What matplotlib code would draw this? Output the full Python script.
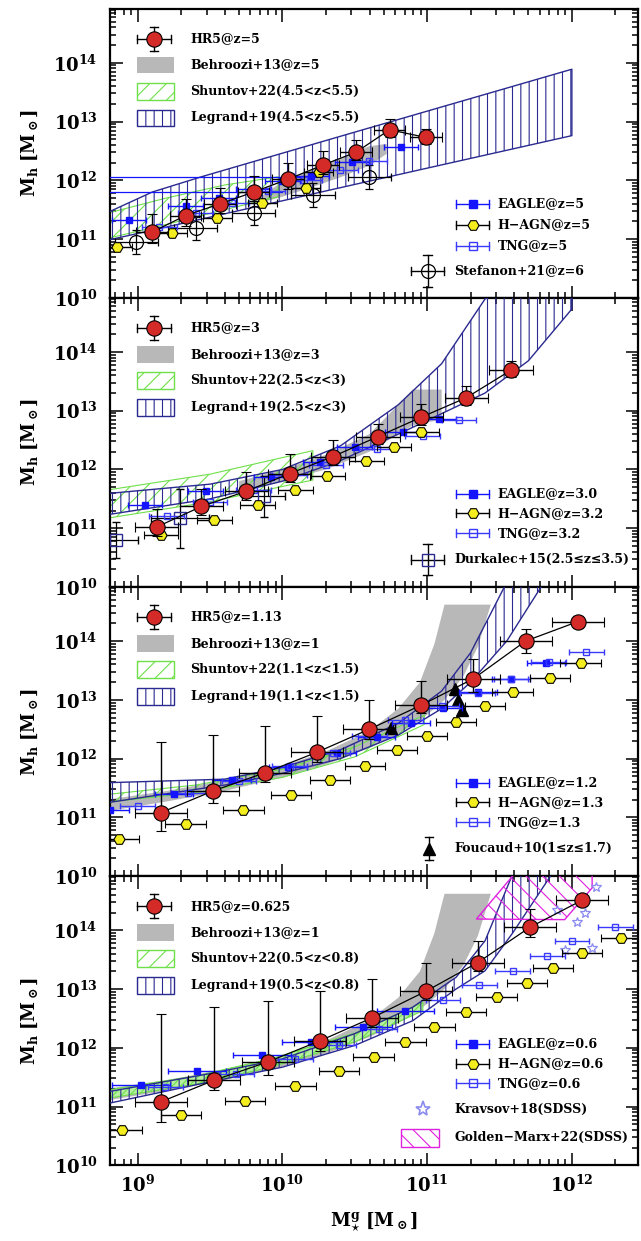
import numpy as np
import matplotlib
matplotlib.use("Agg")
import matplotlib.pyplot as plt
from matplotlib.patches import Rectangle, Polygon
from matplotlib.ticker import FuncFormatter, LogLocator, NullFormatter

plt.rcParams['font.family'] = ['DejaVu Serif']
plt.rcParams['mathtext.fontset'] = 'dejavuserif'
plt.rcParams['hatch.linewidth'] = 0.8

# ---------------- data (log10 of masses) ----------------
# z = 5 panel
hr5_z5_x = [9.10, 9.33, 9.57, 9.80, 10.04, 10.28, 10.51, 10.74, 10.99]
hr5_z5_y = [11.12, 11.40, 11.60, 11.80, 12.02, 12.26, 12.48, 12.86, 12.73]
hr5_z5_up = [0.30, 0.28, 0.27, 0.27, 0.28, 0.24, 0.20, 0.18, 0.15]
hr5_z5_lo = [0.18, 0.17, 0.16, 0.16, 0.16, 0.15, 0.14, 0.13, 0.12]
eagle_z5_x = [8.94, 9.33, 9.56, 9.80, 10.00, 10.20, 10.48, 10.82]
eagle_z5_y = [11.32, 11.56, 11.70, 11.85, 11.98, 12.07, 12.31, 12.56]
hagn_z5_x = [8.86, 9.24, 9.55, 9.86, 10.16, 10.25]
hagn_z5_y = [10.86, 11.11, 11.36, 11.62, 11.87, 12.14]
tng_z5_x = [9.15, 9.40, 9.65, 9.90, 10.15, 10.40, 10.60]
tng_z5_y = [11.20, 11.45, 11.62, 11.82, 12.00, 12.18, 12.32]
stef_x = [8.99, 9.40, 9.80, 10.21, 10.60]
stef_y = [10.95, 11.18, 11.44, 11.75, 12.06]
beh_z5_x = [9.85, 10.00, 10.20, 10.40, 10.60, 10.72]
beh_z5_lo = [11.62, 11.72, 11.88, 12.05, 12.25, 12.45]
beh_z5_hi = [11.72, 11.98, 12.18, 12.38, 12.58, 12.62]
shu_z5_x = [8.79, 9.20, 9.60, 9.97]
shu_z5_lo = [11.01, 11.25, 11.50, 11.72]
shu_z5_hi = [11.44, 11.70, 11.92, 12.06]
leg_z5_x = [8.79, 9.10, 9.44, 10.50, 12.00]
leg_z5_lo = [10.98, 11.15, 11.34, 11.93, 12.76]
leg_z5_hi = [11.45, 11.80, 12.06, 12.82, 13.89]
leg_z5_flat_y = [12.06, 11.80]
leg_z5_flat_xend = [10.26, 10.00]

# z = 3 panel
hr5_z3_x = [9.13, 9.44, 9.75, 10.05, 10.35, 10.66, 10.96, 11.27, 11.58]
hr5_z3_y = [11.02, 11.37, 11.63, 11.93, 12.22, 12.56, 12.89, 13.22, 13.69]
hr5_z3_up = [0.30, 0.30, 0.32, 0.33, 0.28, 0.22, 0.22, 0.20, 0.15]
hr5_z3_lo = [0.15, 0.15, 0.15, 0.15, 0.14, 0.13, 0.13, 0.13, 0.12]
eagle_z3_x = [9.05, 9.47, 9.92, 10.26, 10.50, 10.83, 11.08]
eagle_z3_y = [11.40, 11.64, 11.87, 12.12, 12.38, 12.63, 12.86]
hagn_z3_x = [9.16, 9.53, 9.83, 10.09, 10.31, 10.58, 10.77, 10.96]
hagn_z3_y = [10.89, 11.14, 11.40, 11.65, 11.89, 12.14, 12.39, 12.64]
tng_z3_x = [9.20, 9.50, 9.80, 10.05, 10.30, 10.65, 10.97, 11.22]
tng_z3_y = [11.20, 11.45, 11.65, 11.90, 12.07, 12.35, 12.57, 12.84]
durk_x = [8.85, 9.29, 9.87]
durk_y = [10.80, 11.17, 11.54]
durk_dx = [0.15, 0.20, 0.15]
durk_dy = [0.30, 0.50, 0.35]
beh_z3_x = [9.70, 10.00, 10.30, 10.60, 10.80, 10.90, 11.10]
beh_z3_lo = [11.60, 11.80, 12.00, 12.30, 12.60, 12.75, 12.85]
beh_z3_hi = [11.80, 12.00, 12.25, 12.60, 13.10, 13.36, 13.36]
shu_z3_x = [8.79, 9.50, 10.21]
shu_z3_lo = [11.17, 11.45, 11.82]
shu_z3_hi = [11.65, 11.92, 12.32]
leg_z3_x = [8.79, 9.50, 10.00, 10.40, 10.80, 11.10, 11.40, 11.70, 12.00]
leg_z3_lo = [11.23, 11.50, 11.80, 12.15, 12.60, 12.95, 13.30, 13.85, 14.73]
leg_z3_hi = [11.59, 11.75, 12.00, 12.40, 13.10, 13.80, 14.90, 15.50, 16.00]

# z = 1.13 panel
hr5_z1_x = [9.16, 9.52, 9.88, 10.24, 10.60, 10.96, 11.32, 11.68, 12.04]
hr5_z1_y = [11.08, 11.45, 11.76, 12.11, 12.50, 12.91, 13.36, 14.00, 14.33]
hr5_z1_up = [1.20, 0.96, 0.79, 0.62, 0.49, 0.41, 0.34, 0.21, 0.10]
hr5_z1_lo = [0.32, 0.20, 0.16, 0.16, 0.17, 0.13, 0.22, 0.21, 0.10]
eagle_z1_x = [8.81, 9.25, 9.65, 10.04, 10.38, 10.65, 10.89, 11.11, 11.35, 11.58, 11.82]
eagle_z1_y = [11.12, 11.39, 11.63, 11.85, 12.10, 12.37, 12.61, 12.86, 13.13, 13.36, 13.63]
hagn_z1_x = [8.87, 9.33, 9.73, 10.06, 10.33, 10.57, 10.79, 11.00, 11.20, 11.40, 11.59, 11.85, 12.06]
hagn_z1_y = [10.63, 10.88, 11.13, 11.38, 11.63, 11.88, 12.14, 12.39, 12.63, 12.89, 13.13, 13.38, 13.63]
tng_z1_x = [9.00, 9.35, 9.70, 10.05, 10.35, 10.60, 10.85, 11.10, 11.35, 11.58, 11.84, 12.10]
tng_z1_y = [11.20, 11.42, 11.62, 11.87, 12.10, 12.38, 12.65, 12.90, 13.12, 13.35, 13.64, 13.82]
fouc_x = [10.75, 11.19, 11.21, 11.24]
fouc_y = [12.52, 13.18, 13.00, 12.83]
beh_z1_x = [8.78, 9.20, 9.60, 10.00, 10.30, 10.60, 10.80, 10.95, 11.05, 11.12, 11.25, 11.35, 11.44]
beh_z1_lo = [11.10, 11.27, 11.45, 11.68, 11.90, 12.18, 12.42, 12.65, 12.85, 13.00, 13.40, 13.90, 14.62]
beh_z1_hi = [11.30, 11.45, 11.63, 11.87, 12.12, 12.47, 12.85, 13.30, 13.95, 14.62, 14.62, 14.62, 14.62]
shu_z1_x = [8.79, 9.40, 10.00, 10.50, 10.98]
shu_z1_lo = [11.26, 11.42, 11.68, 12.03, 12.58]
shu_z1_hi = [11.39, 11.55, 11.82, 12.20, 12.74]
leg_z1_x = [8.79, 9.60, 10.00, 10.40, 10.80, 11.10, 11.30, 11.55, 11.80]
leg_z1_lo = [11.25, 11.55, 11.75, 12.00, 12.40, 12.85, 13.30, 14.00, 14.97]
leg_z1_hi = [11.59, 11.65, 11.85, 12.15, 12.60, 13.15, 13.80, 15.00, 16.00]

# z = 0.625 panel
hr5_z06_x = [9.16, 9.53, 9.90, 10.26, 10.62, 10.99, 11.35, 11.71, 12.07]
hr5_z06_y = [11.08, 11.45, 11.76, 12.12, 12.51, 12.96, 13.45, 14.05, 14.51]
hr5_z06_up = [1.50, 1.24, 1.03, 0.85, 0.66, 0.48, 0.37, 0.31, 0.10]
hr5_z06_lo = [0.34, 0.17, 0.23, 0.17, 0.15, 0.15, 0.15, 0.17, 0.10]
eagle_z06_x = [9.02, 9.41, 9.86, 10.20, 10.56, 10.85]
eagle_z06_y = [11.36, 11.60, 11.87, 12.10, 12.35, 12.63]
hagn_z06_x = [8.89, 9.30, 9.74, 10.09, 10.39, 10.63, 10.85, 11.05, 11.27, 11.48, 11.69, 11.87, 12.07, 12.34]
hagn_z06_y = [10.60, 10.85, 11.10, 11.35, 11.60, 11.85, 12.10, 12.35, 12.60, 12.86, 13.11, 13.36, 13.61, 13.86]
tng_z06_x = [9.19, 9.68, 10.09, 10.39, 10.67, 11.11, 11.36, 11.59, 11.83, 12.00, 12.30]
tng_z06_y = [11.33, 11.56, 11.81, 12.05, 12.32, 12.81, 13.07, 13.31, 13.56, 13.82, 14.05]
krav_x = [11.90, 11.95, 12.035, 12.09, 12.14, 12.17]
krav_y = [14.35, 13.67, 14.14, 14.29, 13.69, 14.73]
gm_x = [11.34, 11.60, 12.14, 12.14, 11.95]
gm_y = [14.19, 14.95, 14.95, 14.72, 14.18]
shu_z06_x = [8.79, 9.40, 9.92, 10.50, 10.97]
shu_z06_lo = [11.14, 11.38, 11.67, 12.10, 12.63]
shu_z06_hi = [11.28, 11.52, 11.81, 12.25, 12.77]
leg_z06_x = [8.79, 9.50, 10.00, 10.50, 10.90, 11.20, 11.40, 11.59, 11.86]
leg_z06_lo = [11.05, 11.42, 11.67, 12.04, 12.46, 13.00, 13.31, 13.95, 14.95]
leg_z06_hi = [11.25, 11.56, 11.81, 12.24, 12.69, 13.20, 13.82, 14.95, 15.50]

labels_z5 = ["HR5@z=5", "Behroozi+13@z=5", "Shuntov+22(4.5<z<5.5)", "Legrand+19(4.5<z<5.5)",
             "EAGLE@z=5", "H\u2212AGN@z=5", "TNG@z=5", "Stefanon+21@z=6"]
labels_z3 = ["HR5@z=3", "Behroozi+13@z=3", "Shuntov+22(2.5<z<3)", "Legrand+19(2.5<z<3)",
             "EAGLE@z=3.0", "H\u2212AGN@z=3.2", "TNG@z=3.2", "Durkalec+15(2.5\u2264z\u22643.5)"]
labels_z1 = ["HR5@z=1.13", "Behroozi+13@z=1", "Shuntov+22(1.1<z<1.5)", "Legrand+19(1.1<z<1.5)",
             "EAGLE@z=1.2", "H\u2212AGN@z=1.3", "TNG@z=1.3", "Foucaud+10(1\u2264z\u22641.7)"]
labels_z06 = ["HR5@z=0.625", "Behroozi+13@z=1", "Shuntov+22(0.5<z<0.8)", "Legrand+19(0.5<z<0.8)",
              "EAGLE@z=0.6", "H\u2212AGN@z=0.6", "TNG@z=0.6", "Kravsov+18(SDSS)", "Golden\u2212Marx+22(SDSS)"]

# ---------------- styles ----------------
RED = '#d42a28'
GRAY = '#b8b8b8'
GREEN = '#6fe04a'
NAVY = '#2a2a90'
BLUE = '#1414ff'
TNGB = '#3a3aff'
YEL = '#f4ee1e'
STAR = '#8a8af0'
MAG = '#e020e0'
FS = 9


def P(a):
    return 10 ** np.asarray(a, dtype=float)


def ebar(ax, x, y, dx, dlo, dhi, **kw):
    x = np.asarray(x, float)
    y = np.asarray(y, float)
    X, Y = P(x), P(y)
    xerr = [X - P(x - np.asarray(dx)), P(x + np.asarray(dx)) - X]
    yerr = None
    if dlo is not None:
        yerr = [Y - P(y - np.asarray(dlo)), P(y + np.asarray(dhi)) - Y]
    ax.errorbar(X, Y, xerr=xerr, yerr=yerr, **kw)


def band(ax, x, lo, hi, **kw):
    ax.fill_between(P(x), P(lo), P(hi), **kw)


def leg_mark(ax, xa, ya, half, vhalf, ecol, **mk):
    t = ax.transAxes
    kw = dict(transform=t, color=ecol, lw=1.0, clip_on=False, zorder=9)
    ax.plot([xa - half, xa + half], [ya, ya], **kw)
    ax.plot([xa - half] * 2, [ya - 0.014, ya + 0.014], **kw)
    ax.plot([xa + half] * 2, [ya - 0.014, ya + 0.014], **kw)
    if vhalf:
        ax.plot([xa, xa], [ya - vhalf, ya + vhalf], **kw)
        ax.plot([xa - 0.008, xa + 0.008], [ya - vhalf] * 2, **kw)
        ax.plot([xa - 0.008, xa + 0.008], [ya + vhalf] * 2, **kw)
    ax.plot([xa], [ya], transform=t, clip_on=False, zorder=10, ls='none', **mk)


def leg_rect(ax, x0, ya, w, h, **kw):
    ax.add_patch(Rectangle((x0, ya - h / 2), w, h, transform=ax.transAxes, zorder=9, **kw))


def upper_legend(ax, labels):
    rows = [0.896, 0.805, 0.714, 0.622]
    leg_mark(ax, 0.083, rows[0], 0.032, 0.042, 'k', marker='o', ms=11, mfc=RED, mec='k', mew=0.8)
    leg_rect(ax, 0.051, rows[1], 0.07, 0.058, facecolor=GRAY, edgecolor='none')
    leg_rect(ax, 0.051, rows[2], 0.07, 0.058, facecolor='none', edgecolor=GREEN, hatch='//', lw=1)
    leg_rect(ax, 0.051, rows[3], 0.07, 0.058, facecolor='none', edgecolor=NAVY, hatch='||', lw=1)
    for r, s in zip(rows, labels[:4]):
        ax.text(0.151, r, s, transform=ax.transAxes, fontsize=FS, fontweight='bold', va='center')


def lower_legend(ax, labels, rows):
    leg_mark(ax, 0.686, rows[0], 0.031, 0, BLUE, marker='s', ms=6, mfc=BLUE, mec=BLUE)
    leg_mark(ax, 0.686, rows[1], 0.031, 0, 'k', marker='H', ms=8, mfc=YEL, mec='k', mew=0.8)
    leg_mark(ax, 0.686, rows[2], 0.031, 0, TNGB, marker='s', ms=6, mfc='none', mec=TNGB, mew=1)
    for r, s in zip(rows[:3], labels[4:7]):
        ax.text(0.733, r, s, transform=ax.transAxes, fontsize=FS, fontweight='bold', va='center')


def draw_common(ax, hx, hy, hlo, hup, hdx, ex, ey, edx, gx, gy, gdx, tx, ty, tdx):
    ebar(ax, ex, ey, edx, None, None, fmt='s', ms=5, color=BLUE, mec=BLUE, elinewidth=1,
         capsize=2.5, zorder=6)
    ebar(ax, tx, ty, tdx, None, None, fmt='s', ms=5, mfc='none', color=TNGB, mec=TNGB,
         elinewidth=1, capsize=2.5, zorder=6)
    ebar(ax, gx, gy, gdx, None, None, fmt='H', ms=8, mfc=YEL, mec='k', mew=0.8, color='k',
         elinewidth=1, capsize=3, zorder=7)
    ax.plot(P(hx), P(hy), color='k', lw=0.9, zorder=7.5)
    ebar(ax, hx, hy, hdx, hlo, hup, fmt='o', ms=11, mfc=RED, mec='k', mew=0.8, color='k',
         elinewidth=1, capsize=3.5, zorder=8)


fig = plt.figure(figsize=(6.41, 12.41), dpi=100)
axs = fig.subplots(4, 1, sharex=True, gridspec_kw=dict(hspace=0))
fig.subplots_adjust(left=0.172, right=0.996, top=0.993, bottom=0.061)

# ---- panel 1: z=5
ax = axs[0]
band(ax, beh_z5_x, beh_z5_lo, beh_z5_hi, facecolor=GRAY, edgecolor='none', zorder=1)
band(ax, shu_z5_x, shu_z5_lo, shu_z5_hi, facecolor='none', edgecolor=GREEN, hatch='//', lw=0.8, zorder=2)
band(ax, leg_z5_x, leg_z5_lo, leg_z5_hi, facecolor='none', edgecolor=NAVY, hatch='||', lw=1, zorder=3)
for yv, xe in zip(leg_z5_flat_y, leg_z5_flat_xend):
    ax.plot(P([8.6, xe]), P([yv, yv]), color=BLUE, lw=0.9, zorder=3)
ebar(ax, stef_x, stef_y, 0.15, 0.2, 0.2, fmt='o', ms=10, mfc='none', mec='k', mew=0.9, color='k',
     elinewidth=0.9, capsize=3, zorder=5)
draw_common(ax, hr5_z5_x, hr5_z5_y, hr5_z5_lo, hr5_z5_up, 0.11,
            eagle_z5_x, eagle_z5_y, 0.12, hagn_z5_x, hagn_z5_y, 0.1, tng_z5_x, tng_z5_y, 0.12)
upper_legend(ax, labels_z5)
lower_legend(ax, labels_z5, [0.325, 0.252, 0.180])
leg_mark(ax, 0.601, 0.094, 0.031, 0.055, 'k', marker='o', ms=10, mfc='none', mec='k', mew=0.9)
ax.text(0.651, 0.094, labels_z5[7], transform=ax.transAxes, fontsize=FS, fontweight='bold', va='center')

# ---- panel 2: z=3
ax = axs[1]
band(ax, beh_z3_x, beh_z3_lo, beh_z3_hi, facecolor=GRAY, edgecolor='none', zorder=1)
band(ax, shu_z3_x, shu_z3_lo, shu_z3_hi, facecolor='none', edgecolor=GREEN, hatch='//', lw=0.8, zorder=2)
band(ax, leg_z3_x, leg_z3_lo, leg_z3_hi, facecolor='none', edgecolor=NAVY, hatch='||', lw=1, zorder=3)
ebar(ax, durk_x, durk_y, durk_dx, durk_dy, durk_dy, fmt='s', ms=8, mfc='none', mec=NAVY, mew=1,
     color='k', elinewidth=0.9, capsize=3, zorder=5)
draw_common(ax, hr5_z3_x, hr5_z3_y, hr5_z3_lo, hr5_z3_up, 0.15,
            eagle_z3_x, eagle_z3_y, 0.12, hagn_z3_x, hagn_z3_y, 0.12, tng_z3_x, tng_z3_y, 0.12)
upper_legend(ax, labels_z3)
lower_legend(ax, labels_z3, [0.322, 0.255, 0.186])
leg_mark(ax, 0.601, 0.095, 0.031, 0.055, 'k', marker='s', ms=8, mfc='none', mec=NAVY, mew=1)
ax.text(0.651, 0.095, labels_z3[7], transform=ax.transAxes, fontsize=FS, fontweight='bold', va='center')

# ---- panel 3: z=1.13
ax = axs[2]
band(ax, beh_z1_x, beh_z1_lo, beh_z1_hi, facecolor=GRAY, edgecolor='none', zorder=1)
band(ax, shu_z1_x, shu_z1_lo, shu_z1_hi, facecolor='none', edgecolor=GREEN, hatch='//', lw=0.8, zorder=2)
band(ax, leg_z1_x, leg_z1_lo, leg_z1_hi, facecolor='none', edgecolor=NAVY, hatch='||', lw=1, zorder=3)
ax.plot(P(fouc_x), P(fouc_y), ls='none', marker='^', ms=8, color='k', zorder=5)
draw_common(ax, hr5_z1_x, hr5_z1_y, hr5_z1_lo, hr5_z1_up, 0.18,
            eagle_z1_x, eagle_z1_y, 0.13, hagn_z1_x, hagn_z1_y, 0.14, tng_z1_x, tng_z1_y, 0.12)
upper_legend(ax, labels_z1)
lower_legend(ax, labels_z1, [0.322, 0.255, 0.186])
leg_mark(ax, 0.603, 0.095, 0.0, 0.04, 'k', marker='^', ms=9, mfc='k', mec='k')
ax.text(0.651, 0.095, labels_z1[7], transform=ax.transAxes, fontsize=FS, fontweight='bold', va='center')

# ---- panel 4: z=0.625
ax = axs[3]
band(ax, beh_z1_x, beh_z1_lo, beh_z1_hi, facecolor=GRAY, edgecolor='none', zorder=1)
band(ax, shu_z06_x, shu_z06_lo, shu_z06_hi, facecolor='#b6f0a0', edgecolor=GREEN, hatch='////', lw=0.8, zorder=2)
band(ax, leg_z06_x, leg_z06_lo, leg_z06_hi, facecolor='none', edgecolor=NAVY, hatch='||', lw=1, zorder=3)
ax.add_patch(Polygon(np.column_stack([P(gm_x), P(gm_y)]), closed=True, facecolor='none',
                     edgecolor=MAG, hatch='\\\\', lw=1, zorder=3.5))
ax.plot(P(krav_x), P(krav_y), ls='none', marker='*', ms=7, mfc='none', mec=STAR, mew=0.9, zorder=5)
draw_common(ax, hr5_z06_x, hr5_z06_y, hr5_z06_lo, hr5_z06_up, 0.18,
            eagle_z06_x, eagle_z06_y, 0.2, hagn_z06_x, hagn_z06_y, 0.14, tng_z06_x, tng_z06_y, 0.12)
upper_legend(ax, labels_z06)
lower_legend(ax, labels_z06, [0.420, 0.352, 0.283])
ax.plot([0.593], [0.194], transform=ax.transAxes, marker='*', ms=11, mfc='none', mec=STAR, mew=1.2,
        clip_on=False, zorder=10)
ax.text(0.651, 0.194, labels_z06[7], transform=ax.transAxes, fontsize=FS, fontweight='bold', va='center')
leg_rect(ax, 0.55, 0.095, 0.072, 0.063, facecolor='none', edgecolor=MAG, hatch='\\\\', lw=1)
ax.text(0.651, 0.095, labels_z06[8], transform=ax.transAxes, fontsize=FS, fontweight='bold', va='center')

# ---------------- axes cosmetics ----------------
yfmt = FuncFormatter(lambda v, p: r'$\mathbf{10^{%d}}$' % round(np.log10(v)))
for ax in axs:
    ax.set_xscale('log')
    ax.set_yscale('log')
    ax.set_xlim(P(8.81), P(12.46))
    ax.set_ylim(P(10.0), P(14.92))
    ax.yaxis.set_major_locator(LogLocator(base=10, numticks=10))
    ax.yaxis.set_minor_locator(LogLocator(base=10, subs=np.arange(2, 10), numticks=20))
    ax.yaxis.set_major_formatter(yfmt)
    ax.yaxis.set_minor_formatter(NullFormatter())
    ax.xaxis.set_minor_locator(LogLocator(base=10, subs=np.arange(2, 10), numticks=20))
    ax.xaxis.set_minor_formatter(NullFormatter())
    ax.tick_params(which='both', direction='in', top=True, right=True, width=1.1)
    ax.tick_params(which='major', length=9, labelsize=13, pad=9)
    ax.tick_params(which='minor', length=4.5)
    for sp in ax.spines.values():
        sp.set_linewidth(1.6)
    ax.set_ylabel(r'$\mathbf{M_h\ [M_\odot]}$', fontsize=13, labelpad=10)

axs[3].xaxis.set_major_formatter(yfmt)
axs[3].tick_params(axis='x', which='major', pad=7)
axs[3].set_xlabel(r'$\mathbf{M}^{\mathbf{g}}_{\star}\ \mathbf{[M_\odot]}$', fontsize=13, labelpad=10)

fig.savefig('out.png', dpi=100, facecolor='white')
